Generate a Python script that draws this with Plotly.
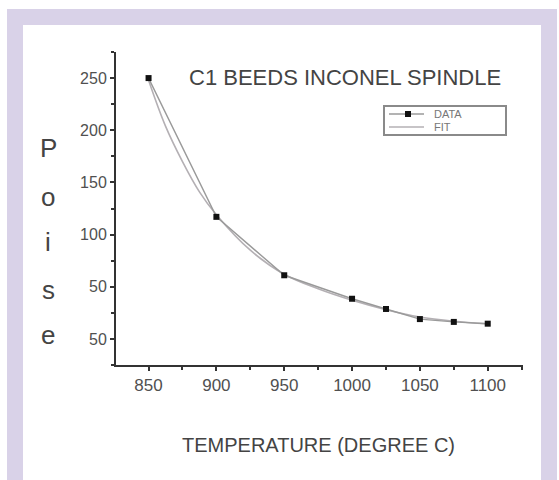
import plotly.graph_objects as go

# ---- data ----
temp = [850, 900, 950, 1000, 1025, 1050, 1075, 1100]
poise = [250, 117, 61, 38.5, 28.7, 19, 16.3, 14.6]

fit_temp = [850, 862.5, 875, 887.5, 900, 925, 950, 975, 1000, 1025, 1050, 1075, 1100]
fit_poise = [248, 204, 170, 141, 119, 85, 62, 48, 37, 28, 21, 17, 14.5]

x_tickvals = [850, 900, 950, 1000, 1050, 1100]
x_ticktext = ["850", "900", "950", "1000", "1050", "1100"]
y_tickvals = [0, 50, 100, 150, 200, 250]
y_ticktext = ["50", "50", "100", "150", "200", "250"]
ylabel_letters = ["P", "o", "i", "s", "e"]
legend_names = ["DATA", "FIT"]

# ---- layout geometry (pixels) ----
W, H = 559, 480
L, R, T, B = 116, 36, 52, 115
PW, PH = W - L - R, H - T - B


def px(p):
    return (p - L) / PW


def py(q):
    return (H - B - q) / PH


FONT = "Liberation Sans, Arial, sans-serif"
GREY = "#4a4a4a"
FIT_COLOR = "#b4b0b4"
DATA_COLOR = "#9a9a9a"

fig = go.Figure()
fig.add_trace(go.Scatter(
    x=fit_temp, y=fit_poise, mode="lines", name="FIT", showlegend=False,
    line=dict(color=FIT_COLOR, width=1.6, shape="spline", smoothing=1.0),
))
fig.add_trace(go.Scatter(
    x=temp, y=poise, mode="lines+markers", name="DATA", showlegend=False,
    line=dict(color=DATA_COLOR, width=1.4),
    marker=dict(symbol="square", size=6, color="#111111"),
))

fig.update_layout(
    width=W, height=H,
    margin=dict(l=L, r=R, t=T, b=B),
    paper_bgcolor="white", plot_bgcolor="white",
    font=dict(family=FONT, color=GREY),
    showlegend=False,
    xaxis=dict(
        range=[826, 1126], showgrid=False, zeroline=False,
        showline=True, linecolor="#333333", linewidth=2,
        tickmode="array", tickvals=x_tickvals, ticktext=x_ticktext,
        ticks="outside", ticklen=4, tickcolor="#333333", tickwidth=1.5,
        tickfont=dict(size=17, color="#505050", family=FONT),
        minor=dict(dtick=25, tick0=825, ticks="outside", ticklen=3,
                   tickcolor="#333333", showgrid=False),
    ),
    yaxis=dict(
        range=[-25, 275], showgrid=False, zeroline=False,
        showline=True, linecolor="#333333", linewidth=2,
        tickmode="array", tickvals=y_tickvals, ticktext=y_ticktext,
        ticks="outside", ticklen=4, tickcolor="#333333", tickwidth=1.5,
        tickfont=dict(size=16, color="#505050", family=FONT),
        minor=dict(dtick=25, tick0=0, ticks="outside", ticklen=3,
                   tickcolor="#333333", showgrid=False),
    ),
)

# lavender frame and white panel
fig.add_shape(type="rect", xref="paper", yref="paper", layer="below",
              x0=px(7), x1=px(557), y0=py(490), y1=py(9),
              fillcolor="#d9d2e8", line=dict(width=0))
fig.add_shape(type="rect", xref="paper", yref="paper", layer="below",
              x0=px(23), x1=px(541), y0=py(490), y1=py(25),
              fillcolor="white", line=dict(width=0))

# hand-drawn legend box
fig.add_shape(type="rect", xref="paper", yref="paper",
              x0=px(384), x1=px(506), y0=py(135), y1=py(106),
              fillcolor="rgba(255,255,255,0)", line=dict(color="#8a8a8a", width=2))
row_y = [114, 127]
row_color = [DATA_COLOR, FIT_COLOR]
for name, ry, col in zip(legend_names, row_y, row_color):
    fig.add_shape(type="line", xref="paper", yref="paper",
                  x0=px(389), x1=px(424), y0=py(ry), y1=py(ry),
                  line=dict(color=col, width=1.4))
    fig.add_annotation(text=name, xref="paper", yref="paper",
                       x=px(432), y=py(ry), xanchor="left", yanchor="middle",
                       showarrow=False, font=dict(size=11, color="#777777", family=FONT))
fig.add_shape(type="rect", xref="paper", yref="paper",
              x0=px(405), x1=px(411), y0=py(117), y1=py(111),
              fillcolor="#111111", line=dict(width=0))

# title
fig.add_annotation(text="C1 BEEDS INCONEL SPINDLE", xref="paper", yref="paper",
                   x=px(187), y=py(77), xanchor="left", yanchor="middle",
                   showarrow=False, font=dict(size=22, color="#444444", family=FONT))
# x-axis title
fig.add_annotation(text="TEMPERATURE (DEGREE C)", xref="paper", yref="paper",
                   x=px(318), y=py(445), xanchor="center", yanchor="middle",
                   showarrow=False, font=dict(size=20, color="#444444", family=FONT))
# stacked y-axis title letters
for letter, ypix in zip(ylabel_letters, [148, 197, 242, 290, 335]):
    fig.add_annotation(text=letter, xref="paper", yref="paper",
                       x=px(48), y=py(ypix), xanchor="center", yanchor="middle",
                       showarrow=False, font=dict(size=26, color="#444444", family=FONT))

fig.write_html("out.html")
